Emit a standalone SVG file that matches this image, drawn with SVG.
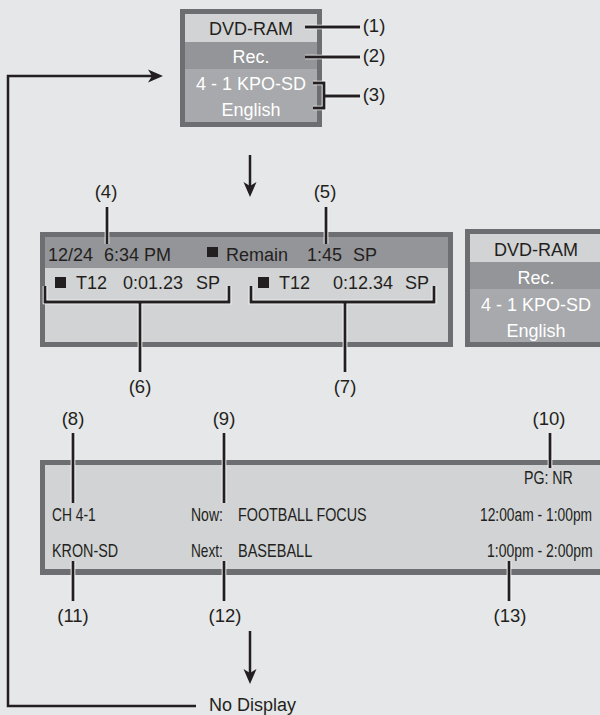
<svg xmlns="http://www.w3.org/2000/svg" width="600" height="715" viewBox="0 0 600 715">
<defs>
<style>
.t{font-family:"Liberation Sans",Arial,sans-serif;font-size:18px;fill:#231f20}
.w{fill:#ffffff}
.c{text-anchor:middle}
.lbl{font-family:"Liberation Sans",Arial,sans-serif;font-size:18.5px;fill:#231f20;text-anchor:middle}
.n{font-family:"Liberation Sans",Arial,sans-serif;font-size:17.5px;fill:#231f20}
.ld{fill:none;stroke:#231f20;stroke-width:2.8}
.halo{fill:none;stroke:#ffffff;stroke-width:4.6}
.ar{fill:none;stroke:#231f20;stroke-width:2.5}
.sq{fill:#231f20}
</style>
<marker id="ah" markerUnits="userSpaceOnUse" markerWidth="18" markerHeight="16" viewBox="-12 -8 18 16" refX="0" refY="0" orient="auto">
<path d="M4,0 L-11,-6.5 L-7,0 L-11,6.5 Z" fill="#231f20"/>
</marker>
</defs>
<rect x="0" y="0" width="600" height="715" fill="#e6e7e8"/>

<g id="box1">
<rect x="180" y="9" width="142" height="118" fill="#6d6e71"/>
<rect x="185" y="14" width="132" height="28" fill="#d1d3d4"/>
<rect x="185" y="42" width="132" height="27" fill="#939598"/>
<rect x="185" y="69" width="132" height="53" fill="#a7a9ac"/>
<text class="t c" x="251" y="35">DVD-RAM</text>
<text class="t c w" x="251" y="63">Rec.</text>
<text class="t c w" x="251" y="90">4 - 1 KPO-SD</text>
<text class="t c w" x="251" y="116">English</text>
</g>

<g id="box2">
<rect x="40" y="232" width="413" height="115" fill="#6d6e71"/>
<rect x="45" y="237" width="403" height="31" fill="#939598"/>
<rect x="45" y="268" width="403" height="74" fill="#d1d3d4"/>
<text class="t" x="48" y="261">12/24</text>
<text class="t" x="104" y="261">6:34 PM</text>
<rect class="sq" x="207" y="247" width="11" height="10"/>
<text class="t" x="226" y="261">Remain</text>
<text class="t" x="307" y="261">1:45</text>
<text class="t" x="353" y="261">SP</text>
<rect class="sq" x="55" y="277" width="11" height="11"/>
<text class="t" x="76" y="289">T12</text>
<text class="t" x="123" y="289">0:01.23</text>
<text class="t" x="196" y="289">SP</text>
<rect class="sq" x="258" y="277" width="11" height="11"/>
<text class="t" x="279" y="289">T12</text>
<text class="t" x="333" y="289">0:12.34</text>
<text class="t" x="405" y="289">SP</text>
</g>

<g id="box3">
<rect x="465" y="229" width="142" height="118" fill="#6d6e71"/>
<rect x="470" y="234" width="132" height="28" fill="#d1d3d4"/>
<rect x="470" y="262" width="132" height="27" fill="#939598"/>
<rect x="470" y="289" width="132" height="53" fill="#a7a9ac"/>
<text class="t c" x="536" y="256">DVD-RAM</text>
<text class="t c w" x="536" y="284">Rec.</text>
<text class="t c w" x="536" y="311">4 - 1 KPO-SD</text>
<text class="t c w" x="536" y="337">English</text>
</g>

<g id="box4">
<rect x="40" y="460" width="580" height="115" fill="#6d6e71"/>
<rect x="45" y="465" width="575" height="104" fill="#d1d3d4"/>
<text class="n" transform="translate(524,484) scale(0.81,1)">PG: NR</text>
<text class="n" transform="translate(52,521) scale(0.79,1)">CH 4-1</text>
<text class="n" transform="translate(191,521) scale(0.8,1)">Now:</text>
<text class="n" transform="translate(238,521) scale(0.82,1)">FOOTBALL FOCUS</text>
<text class="n" transform="translate(480,521) scale(0.79,1)">12:00am - 1:00pm</text>
<text class="n" transform="translate(52,557) scale(0.82,1)">KRON-SD</text>
<text class="n" transform="translate(191,557) scale(0.78,1)">Next:</text>
<text class="n" transform="translate(238,557) scale(0.83,1)">BASEBALL</text>
<text class="n" transform="translate(487,557) scale(0.8,1)">1:00pm - 2:00pm</text>
</g>

<g id="nodisplay">
<text class="t" x="209" y="711">No Display</text>
</g>

<g id="labels">
<text class="lbl" x="374" y="32">(1)</text>
<text class="lbl" x="374" y="62">(2)</text>
<text class="lbl" x="374" y="101">(3)</text>
<text class="lbl" x="106" y="198">(4)</text>
<text class="lbl" x="325" y="198">(5)</text>
<text class="lbl" x="140" y="393">(6)</text>
<text class="lbl" x="345" y="393">(7)</text>
<text class="lbl" x="73" y="425">(8)</text>
<text class="lbl" x="224" y="425">(9)</text>
<text class="lbl" x="549" y="425">(10)</text>
<text class="lbl" x="73" y="622">(11)</text>
<text class="lbl" x="225" y="622">(12)</text>
<text class="lbl" x="510" y="622">(13)</text>
</g>

<g id="connectors">
<path class="ar" d="M196,706 H8 V76 H159" marker-end="url(#ah)"/>
<path class="ar" d="M250,155 V193" marker-end="url(#ah)"/>
<path class="ar" d="M250,631 V680" marker-end="url(#ah)"/>
<g class="halo">
<path d="M305,27 H360 M305,57 H360 M313,83 H324 V108 H313 M324,96 H360"/>
<path d="M107,207 V244 M326,207 V244"/>
<path d="M45,286 V302 H229 V286 M140,302 V372 M251,286 V302 H434 V286 M345,302 V372"/>
<path d="M73,433 V503 M224,433 V503 M550,433 V468 M73,561 V601 M224,561 V601 M509,561 V601"/>
</g>
<g class="ld">
<path d="M305,27 H360 M305,57 H360 M313,83 H324 V108 H313 M324,96 H360"/>
<path d="M107,207 V244 M326,207 V244"/>
<path d="M45,286 V302 H229 V286 M140,302 V372 M251,286 V302 H434 V286 M345,302 V372"/>
<path d="M73,433 V503 M224,433 V503 M550,433 V468 M73,561 V601 M224,561 V601 M509,561 V601"/>
</g>
</g>
</svg>
